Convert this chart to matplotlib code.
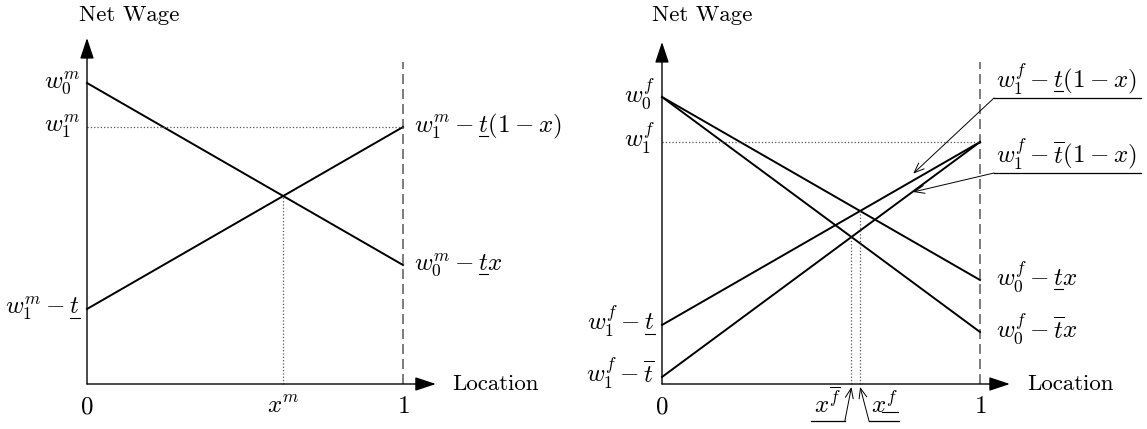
import numpy as np
import matplotlib.pyplot as plt
from matplotlib.lines import Line2D

plt.rcParams['mathtext.fontset'] = 'cm'
plt.rcParams['axes.unicode_minus'] = False

# left panel (men): wages at the two ends, commuting cost
w0m = 3.01
w1m = 2.57
t_m = 1.82

# right panel (women): wages, low and high commuting cost
w0f = 2.87
w1f = 2.42
t_lo = 1.83
t_hi = 2.35

fs = 16.5    # plain text
mfs = 18     # math labels
lw = 1.4
base = -0.055   # baseline offset of a label from the level it marks

fig = plt.figure(figsize=(11.47, 4.29), dpi=100)
renderer = fig.canvas.get_renderer()
underlines = []


def make_ax(rect, x0px, x1px, left_px, width_px):
    ax = fig.add_axes(rect)
    # 1 data unit in x = distance 0->1, 1 unit in y = 100 px
    ax.set_xlim((left_px - x0px) / (x1px - x0px), (left_px + width_px - x0px) / (x1px - x0px))
    ax.set_ylim(-0.45, 3.84)
    ax.axis('off')
    return ax


def axes_frame(ax, ytop, xtip):
    st = '-|>,head_length=0.75,head_width=0.25'
    ax.annotate('', xy=(0, ytop), xytext=(0, 0),
                arrowprops=dict(arrowstyle=st, color='black', lw=1.0, mutation_scale=17, shrinkA=0, shrinkB=0))
    ax.annotate('', xy=(xtip, 0), xytext=(0, 0),
                arrowprops=dict(arrowstyle=st, color='black', lw=1.0, mutation_scale=17, shrinkA=0, shrinkB=0))
    ax.plot([1, 1], [0, 3.22], ls=(0, (6, 3)), color='#666666', lw=1.2)


def text_w(s):
    t = fig.text(0, 0, s, fontsize=mfs)
    w = t.get_window_extent(renderer).width
    t.remove()
    return w


def label(ax, x, y, pre, mid='', post='', ha='left', dy=3.5):
    # mathtext has no \underline, so the underlined symbol is marked afterwards
    txt = ax.text(x, y, '$' + pre + mid + post + '$', fontsize=mfs, ha=ha, va='baseline')
    if mid:
        underlines.append((txt, mid, post, dy))
    return txt


def draw_underlines():
    inv = fig.transFigure.inverted()
    for txt, mid, post, dy in underlines:
        bb = txt.get_window_extent(renderer)
        xb = bb.x1 - (text_w('$' + post + '$') if post and post != '}' else 0)
        xa = bb.x1 - text_w('$' + mid + post.strip('}') + '$')
        yb = txt.axes.transData.transform((0, txt.get_position()[1]))[1] - dy
        (fx0, fy), (fx1, _) = inv.transform([(xa, yb), (xb, yb)])
        fig.add_artist(Line2D([fx0, fx1], [fy, fy], color='black', lw=0.8, transform=fig.transFigure))


xs = np.array([0.0, 1.0])

# ---------------- left panel ----------------
axL = make_ax([0, 0, 0.5, 1], 87, 403, 0, 573.5)
axes_frame(axL, 3.46, 1.104)
xm = (w0m - w1m + t_m) / (2 * t_m)
ym = w0m - t_m * xm
axL.plot(xs, w0m - t_m * xs, color='black', lw=lw)
axL.plot(xs, w1m - t_m * (1 - xs), color='black', lw=lw)
axL.plot([0, 1], [w1m, w1m], ls=':', color='#555555', lw=0.9)
axL.plot([xm, xm], [0, ym], ls=':', color='#555555', lw=0.9)

axL.text(-0.025, 3.69, 'Net Wage', family='cmr10', fontsize=fs, ha='left', va='center')
axL.text(1.155, 0, 'Location', family='cmr10', fontsize=fs, ha='left', va='center')
axL.text(0, -0.29, '$0$', fontsize=mfs, ha='center', va='baseline')
axL.text(xm, -0.29, '$x^m$', fontsize=mfs, ha='center', va='baseline')
axL.text(1, -0.29, '$1$', fontsize=mfs, ha='center', va='baseline')
label(axL, -0.022, w0m + base, 'w_0^m', ha='right')
label(axL, -0.022, w1m + base, 'w_1^m', ha='right')
label(axL, -0.022, w1m - t_m + base, 'w_1^m-', 't', ha='right')
label(axL, 1.035, w1m + base, 'w_1^m-', 't', '(1-x)')
label(axL, 1.035, w0m - t_m + base, 'w_0^m-', 't', 'x')

# ---------------- right panel ----------------
axR = make_ax([0.5, 0, 0.5, 1], 662, 980, 573.5, 573.5)
axes_frame(axR, 3.42, 1.094)
for t in (t_lo, t_hi):
    axR.plot(xs, w0f - t * xs, color='black', lw=lw)
    axR.plot(xs, w1f - t * (1 - xs), color='black', lw=lw)
axR.plot([0, 1], [w1f, w1f], ls=':', color='#555555', lw=0.9)
xf_lo = (w0f - w1f + t_lo) / (2 * t_lo)
xf_hi = (w0f - w1f + t_hi) / (2 * t_hi)
for xf, t in ((xf_lo, t_lo), (xf_hi, t_hi)):
    axR.plot([xf, xf], [0, w0f - t * xf], ls=':', color='#555555', lw=0.9)

axR.text(-0.03, 3.69, 'Net Wage', family='cmr10', fontsize=fs, ha='left', va='center')
axR.text(1.148, 0, 'Location', family='cmr10', fontsize=fs, ha='left', va='center')
axR.text(0, -0.29, '$0$', fontsize=mfs, ha='center', va='baseline')
axR.text(1, -0.29, '$1$', fontsize=mfs, ha='center', va='baseline')
label(axR, -0.022, w0f + base, 'w_0^f', ha='right')
label(axR, -0.022, w1f + base, 'w_1^f', ha='right')
label(axR, -0.022, w1f - t_lo + base, 'w_1^f-', 't', ha='right')
label(axR, -0.022, w1f - t_hi + base, r'w_1^f-\overline{t}', ha='right')
label(axR, 1.05, w0f - t_lo + base, 'w_0^f-', 't', 'x')
label(axR, 1.05, w0f - t_hi + base, r'w_0^f-\overline{t}x')

# leader labels for the rising lines
thin = dict(arrowstyle='->,head_length=0.55,head_width=0.22', color='black', lw=0.7,
            shrinkA=0, shrinkB=0, mutation_scale=13)
xa = 0.80
label(axR, 1.05, 2.97, 'w_1^f-', 't', '(1-x)')
label(axR, 1.05, 2.22, r'w_1^f-\overline{t}(1-x)')
for t, yline, off in ((t_lo, 2.86, 0.05), (t_hi, 2.11, -0.03)):
    axR.plot([1.044, 1.506], [yline, yline], color='black', lw=0.9)
    axR.annotate('', xy=(xa - 0.01, w1f - t * (1 - xa) + off), xytext=(1.044, yline), arrowprops=thin)

# leader labels for the two cut-offs
axR.text(0.52, -0.29, r'$x^{\overline{f}}$', fontsize=mfs, ha='center', va='baseline')
axR.plot([0.469, 0.575], [-0.37, -0.37], color='black', lw=0.9)
axR.annotate('', xy=(xf_hi, -0.03), xytext=(0.575, -0.37), arrowprops=thin)
label(axR, 0.70, -0.29, 'x^{', 'f', '}', ha='center', dy=-1.0)
axR.plot([0.651, 0.745], [-0.37, -0.37], color='black', lw=0.9)
axR.annotate('', xy=(xf_lo, -0.03), xytext=(0.651, -0.37), arrowprops=thin)

draw_underlines()
fig.savefig('out.png', dpi=100)
